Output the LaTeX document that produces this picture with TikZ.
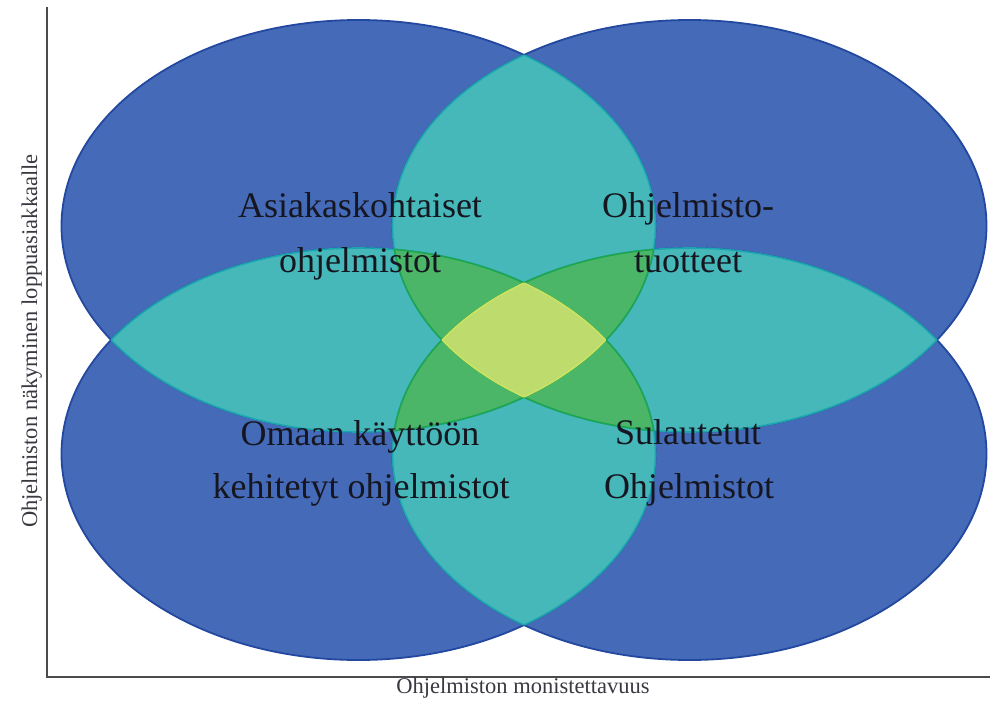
\documentclass[tikz,border=0pt]{standalone}
\usepackage{fontspec}
\setmainfont{Liberation Serif}
\definecolor{eblue}{RGB}{68,106,184}
\definecolor{eblueline}{RGB}{35,72,160}
\definecolor{ecyan}{RGB}{70,184,186}
\definecolor{ecyanline}{RGB}{28,165,175}
\definecolor{egreen}{RGB}{75,182,104}
\definecolor{egreenline}{RGB}{30,165,80}
\definecolor{eyellow}{RGB}{190,220,110}
\definecolor{eyellowline}{RGB}{205,228,95}
\definecolor{axisgray}{RGB}{75,75,75}
\definecolor{txt}{RGB}{22,22,32}
\tikzset{
  bigtxt/.style={font=\fontsize{36}{44}\selectfont, text=txt, anchor=base, inner sep=0pt},
  axtxt/.style={font=\fontsize{22.5}{26}\selectfont, text=txt!85, anchor=base, inner sep=0pt},
  axisline/.style={draw=axisgray, line width=2pt},
  blueline/.style={draw=eblueline, line width=1.8pt},
  cyanline/.style={draw=ecyanline, line width=1.6pt},
  greenline/.style={draw=egreenline, line width=1.6pt},
  yellowline/.style={draw=eyellowline, line width=1.4pt}
}
\begin{document}
\begin{tikzpicture}[x=1pt,y=-1pt]
\useasboundingbox (0,0) rectangle (997,704);
\def\pA{(358.5,226) ellipse [x radius=297pt, y radius=206pt]}
\def\pB{(689.5,226) ellipse [x radius=297pt, y radius=206pt]}
\def\pC{(358.5,454) ellipse [x radius=297pt, y radius=206pt]}
\def\pD{(689.5,454) ellipse [x radius=297pt, y radius=206pt]}

% axes
\coordinate (ytop) at (46.5,7);
\coordinate (origin) at (46.5,676.5);
\coordinate (xend) at (990,676.5);
\draw[axisline] (ytop) -- (origin) -- (xend);

% blue ellipses
\fill[eblue] \pA; \fill[eblue] \pB; \fill[eblue] \pC; \fill[eblue] \pD;
\draw[blueline] \pA; \draw[blueline] \pB; \draw[blueline] \pC; \draw[blueline] \pD;

% pairwise overlaps (cyan)
\begin{scope}\clip \pA; \fill[ecyan] \pB; \fill[ecyan] \pC; \fill[ecyan] \pD; \end{scope}
\begin{scope}\clip \pB; \fill[ecyan] \pC; \fill[ecyan] \pD; \end{scope}
\begin{scope}\clip \pC; \fill[ecyan] \pD; \end{scope}
\begin{scope}\clip \pA; \draw[cyanline] \pB; \draw[cyanline] \pC; \draw[cyanline] \pD; \end{scope}
\begin{scope}\clip \pB; \draw[cyanline] \pA; \draw[cyanline] \pC; \draw[cyanline] \pD; \end{scope}
\begin{scope}\clip \pC; \draw[cyanline] \pA; \draw[cyanline] \pB; \draw[cyanline] \pD; \end{scope}
\begin{scope}\clip \pD; \draw[cyanline] \pA; \draw[cyanline] \pB; \draw[cyanline] \pC; \end{scope}

% triple overlaps (green)
\begin{scope}\clip \pA; \clip \pB; \fill[egreen] \pC; \fill[egreen] \pD; \end{scope}
\begin{scope}\clip \pC; \clip \pD; \fill[egreen] \pA; \fill[egreen] \pB; \end{scope}
\begin{scope}\clip \pA; \clip \pB; \draw[greenline] \pC; \draw[greenline] \pD; \end{scope}
\begin{scope}\clip \pC; \clip \pD; \draw[greenline] \pA; \draw[greenline] \pB; \end{scope}
\begin{scope}\clip \pA; \clip \pC; \draw[greenline] \pB; \draw[greenline] \pD; \end{scope}
\begin{scope}\clip \pB; \clip \pD; \draw[greenline] \pA; \draw[greenline] \pC; \end{scope}

% quadruple overlap (yellow-green)
\begin{scope}\clip \pA; \clip \pB; \clip \pC; \fill[eyellow] \pD; \end{scope}
\begin{scope}\clip \pA; \clip \pB; \clip \pC; \draw[yellowline] \pD; \end{scope}
\begin{scope}\clip \pA; \clip \pB; \clip \pD; \draw[yellowline] \pC; \end{scope}
\begin{scope}\clip \pA; \clip \pC; \clip \pD; \draw[yellowline] \pB; \end{scope}
\begin{scope}\clip \pB; \clip \pC; \clip \pD; \draw[yellowline] \pA; \end{scope}

% labels
\node[bigtxt] (tl1) at (360,217) {Asiakaskohtaiset};
\node[bigtxt] (tl2) at (360,272) {ohjelmistot};
\node[bigtxt] (tr1) at (688,217) {Ohjelmisto-};
\node[bigtxt] (tr2) at (688,272) {tuotteet};
\node[bigtxt] (bl1) at (360,445) {Omaan käyttöön};
\node[bigtxt] (bl2) at (361,498) {kehitetyt ohjelmistot};
\node[bigtxt] (br1) at (688,444) {Sulautetut};
\node[bigtxt] (br2) at (689,498) {Ohjelmistot};

\node[axtxt] (xlab) at (523,693) {Ohjelmiston monistettavuus};
\node[axtxt, rotate=90] (ylab) at (37,341) {Ohjelmiston näkyminen loppuasiakkaalle};
\end{tikzpicture}
\end{document}
